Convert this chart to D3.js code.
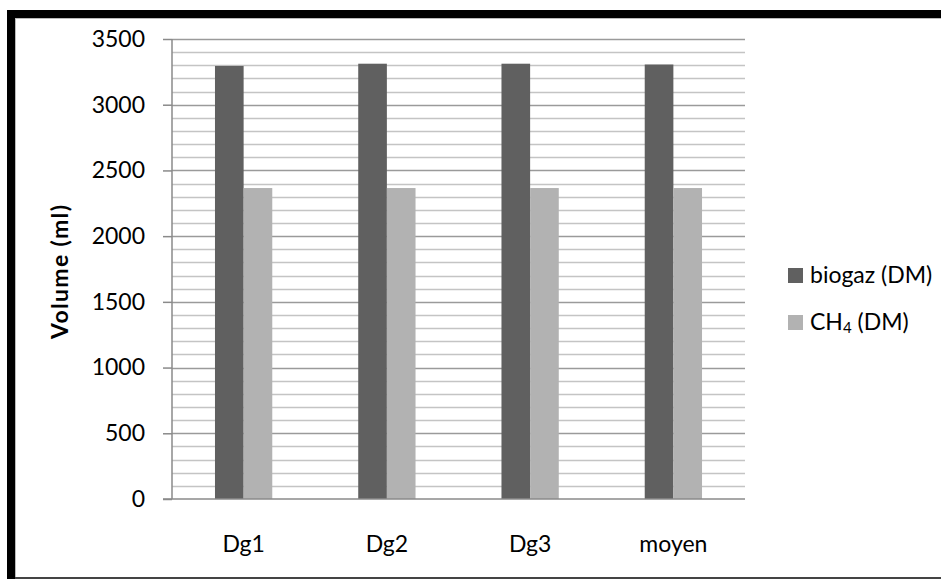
<!DOCTYPE html>
<html><head><meta charset="utf-8">
<script src="https://cdn.jsdelivr.net/npm/d3@7"></script>
<style>body{margin:0;background:#fff}svg{display:block}text{font-family:Lato,"Open Sans",sans-serif}</style>
</head><body>
<svg id="c" width="941" height="579"></svg>
<script>
const categories = ["Dg1","Dg2","Dg3","moyen"];
const seriesNames = ["biogaz (DM)","CH4 (DM)"];
const biogaz = [3295, 3312, 3312, 3306];
const ch4 = [2366, 2366, 2366, 2366];
const yTicks = [0,500,1000,1500,2000,2500,3000,3500];
const minorTicks = d3.range(0, 3501, 100);
const colors = ["#606060","#b2b2b2"];

const svg = d3.select("#c");
// frame
svg.append("rect").attr("x",7).attr("y",10).attr("width",934).attr("height",8).attr("fill","#000");
svg.append("line").attr("x1",15).attr("x2",941).attr("y1",18.5).attr("y2",18.5).attr("stroke","#bbb");
svg.append("rect").attr("x",7).attr("y",10).attr("width",8).attr("height",569).attr("fill","#000");
svg.append("line").attr("x1",15.5).attr("x2",15.5).attr("y1",18).attr("y2",579).attr("stroke","#bbb");
svg.append("rect").attr("x",15).attr("y",577).attr("width",926).attr("height",2).attr("fill","#444");

const L=172, R=745, T=39, B=499;
const x = d3.scaleBand().domain(categories).range([L,R]).paddingInner(0).paddingOuter(0);
const y = d3.scaleLinear().domain([0,3500]).range([B,T]);
const x1 = d3.scaleBand().domain([0,1]).range([0, x.bandwidth()*0.4]);

// minor grid
svg.append("g").selectAll("line").data(minorTicks.filter(v=>v%500!==0)).join("line")
  .attr("x1",L).attr("x2",R).attr("y1",d=>Math.round(y(d))+0.5).attr("y2",d=>Math.round(y(d))+0.5)
  .attr("stroke","#c4c4c4").attr("stroke-width",1.5);
// major grid
svg.append("g").selectAll("line").data(yTicks.filter(v=>v>0)).join("line")
  .attr("x1",L).attr("x2",R).attr("y1",d=>Math.round(y(d))+0.5).attr("y2",d=>Math.round(y(d))+0.5)
  .attr("stroke","#9a9a9a").attr("stroke-width",1.5);

// bars
const data = categories.map((c,i)=>({c, v:[biogaz[i], ch4[i]]}));
const g = svg.append("g").selectAll("g").data(data).join("g")
  .attr("transform", d=>`translate(${x(d.c)+x.bandwidth()*0.3},0)`);
g.selectAll("rect").data(d=>d.v.map((v,k)=>({v,k}))).join("rect")
  .attr("x",d=>x1(d.k)).attr("width",x1.bandwidth())
  .attr("y",d=>y(d.v)).attr("height",d=>B-y(d.v))
  .attr("fill",d=>colors[d.k]);

// y axis
const ya = svg.append("g").attr("transform",`translate(${L},0)`)
  .call(d3.axisLeft(y).tickValues(yTicks).tickFormat(d3.format("d")).tickSize(9).tickPadding(18));
ya.select(".domain").attr("stroke","#8a8a8a").attr("stroke-width",1.5).attr("d",`M0,${T}V${B}`);
ya.selectAll(".tick line").attr("stroke","#8a8a8a").attr("stroke-width",1.5);
ya.selectAll(".tick text").attr("font-size",23).attr("fill","#000").style("font-family","Lato,sans-serif");

// x axis
const xa = svg.append("g").attr("transform",`translate(0,${B})`)
  .call(d3.axisBottom(x).tickSize(0).tickPadding(37));
xa.select(".domain").attr("stroke","#8a8a8a").attr("stroke-width",1.5).attr("d",`M${L-9},0H${R}`);
xa.selectAll(".tick text").attr("font-size",23).attr("fill","#000").style("font-family","Lato,sans-serif");

// y label
svg.append("text").attr("transform",`translate(68,272) rotate(-90)`)
  .attr("text-anchor","middle").attr("font-size",23).attr("font-weight","bold")
  .attr("textLength",134).attr("lengthAdjust","spacing").text("Volume (ml)");

// legend
const leg = svg.append("g");
[0,1].forEach(k=>{
  const top = 268 + k*47;
  leg.append("rect").attr("x",788).attr("y",top).attr("width",15).attr("height",15).attr("fill",colors[k]);
  const t = leg.append("text").attr("x",810).attr("y",top+15).attr("font-size",23).attr("fill","#000");
  if(k===0) t.text(seriesNames[0]);
  else { t.append("tspan").text("CH"); t.append("tspan").attr("font-size",15).attr("dy",3).text("4");
         t.append("tspan").attr("dy",-3).text(" (DM)"); }
});
</script>
</body></html>
